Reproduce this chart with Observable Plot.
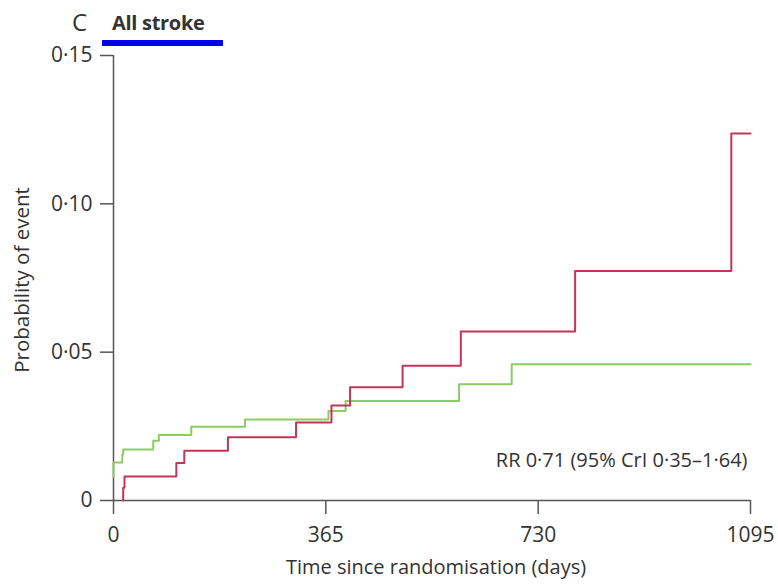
<!DOCTYPE html>
<html>
<head>
<meta charset="utf-8">
<script src="https://cdn.jsdelivr.net/npm/d3@7"></script>
<script src="https://cdn.jsdelivr.net/npm/@observablehq/plot@0.6"></script>
<style>
  html, body { margin: 0; padding: 0; background: #fff; }
  #wrap { position: relative; width: 778px; height: 587px; font-family: "Open Sans", Lato, sans-serif; color: #333; }
  #panel { position: absolute; left: 72px; top: 5px; font-size: 24px; line-height: normal; color: #333; }
  #title { position: absolute; left: 102px; top: 13px; width: 121px; height: 27px; border-bottom: 6px solid #0000ee; }
  #title span { position: absolute; left: 10px; top: -4px; font-size: 20px; line-height: normal; font-weight: bold; color: #333; white-space: nowrap; letter-spacing: -0.3px; }
  svg { overflow: visible; }
</style>
</head>
<body>
<div id="wrap">
  <div id="panel">C</div>
  <div id="title"><span>All stroke</span></div>
</div>
<script>
// Step curve points for each arm (day, cumulative probability)
const redDays  = [16.7, 16.7, 18.9, 108, 121.7, 196.7, 313.8, 374.7, 406.7, 496.9, 597, 793.5, 1062, 1095];
const redProb  = [0, 0.0043, 0.0081, 0.0126, 0.0168, 0.0213, 0.0263, 0.0320, 0.0382, 0.0454, 0.0570, 0.0774, 0.1237, 0.1237];
const greenDays = [0, 0, 15, 16.7, 68.3, 78, 133.7, 226, 369.5, 399, 594, 684.5, 1095];
const greenProb = [0.008, 0.0128, 0.0155, 0.0172, 0.0201, 0.0221, 0.0249, 0.0273, 0.0302, 0.0335, 0.0392, 0.0459, 0.0459];
const xTicks = [0, 365, 730, 1095];
const yTicks = [0, 0.05, 0.10, 0.15];
const annotation = "RR 0·71 (95% CrI 0·35–1·64)";

const red = redDays.map((d, i) => ({day: d, p: redProb[i]}));
const green = greenDays.map((d, i) => ({day: d, p: greenProb[i]}));
const axisColor = "#555";
const font = "'Open Sans', Lato, sans-serif";

const fmtY = v => v === 0 ? "0" : d3.format(".2f")(v).replace(".", "·");

const chart = Plot.plot({
  width: 778,
  height: 587,
  marginLeft: 113,
  marginRight: 28,
  marginTop: 55,
  marginBottom: 87,
  style: {fontFamily: font, fontSize: "21px", color: "#333", background: "white"},
  x: {domain: [0, 1095], ticks: xTicks, label: null},
  y: {domain: [0, 0.15], ticks: yTicks, label: null},
  marks: [
    Plot.axisX({ticks: xTicks, tickSize: 14, tickPadding: 13, stroke: axisColor, strokeWidth: 1.5, fontSize: 21, tickFormat: d => String(d), label: null}),
    Plot.axisY({ticks: yTicks, tickSize: 13, tickPadding: 8, stroke: axisColor, strokeWidth: 1.5, fontSize: 21, tickFormat: fmtY, label: null}),
    Plot.ruleY([0], {x1: 0, x2: 1095, stroke: axisColor, strokeWidth: 1.5}),
    Plot.ruleX([0], {y1: 0, y2: 0.15, stroke: axisColor, strokeWidth: 1.5}),
    Plot.line(green, {x: "day", y: "p", curve: "step-after", stroke: "#8dcb65", strokeWidth: 2}),
    Plot.line(red, {x: "day", y: "p", curve: "step-after", stroke: "#c4355a", strokeWidth: 2}),
    Plot.text([annotation], {frameAnchor: "bottom-right", dy: -34, dx: -3, textAnchor: "end", fontSize: 20, fill: "#333"}),
    Plot.text(["Time since randomisation (days)"], {frameAnchor: "bottom", dy: 73, dx: 4, fontSize: 20, fill: "#333"}),
    Plot.text(["Probability of event"], {frameAnchor: "left", dx: -91, dy: 2, rotate: -90, textAnchor: "middle", fontSize: 20.5, fill: "#333"})
  ]
});
document.getElementById("wrap").prepend(chart);
</script>
</body>
</html>
